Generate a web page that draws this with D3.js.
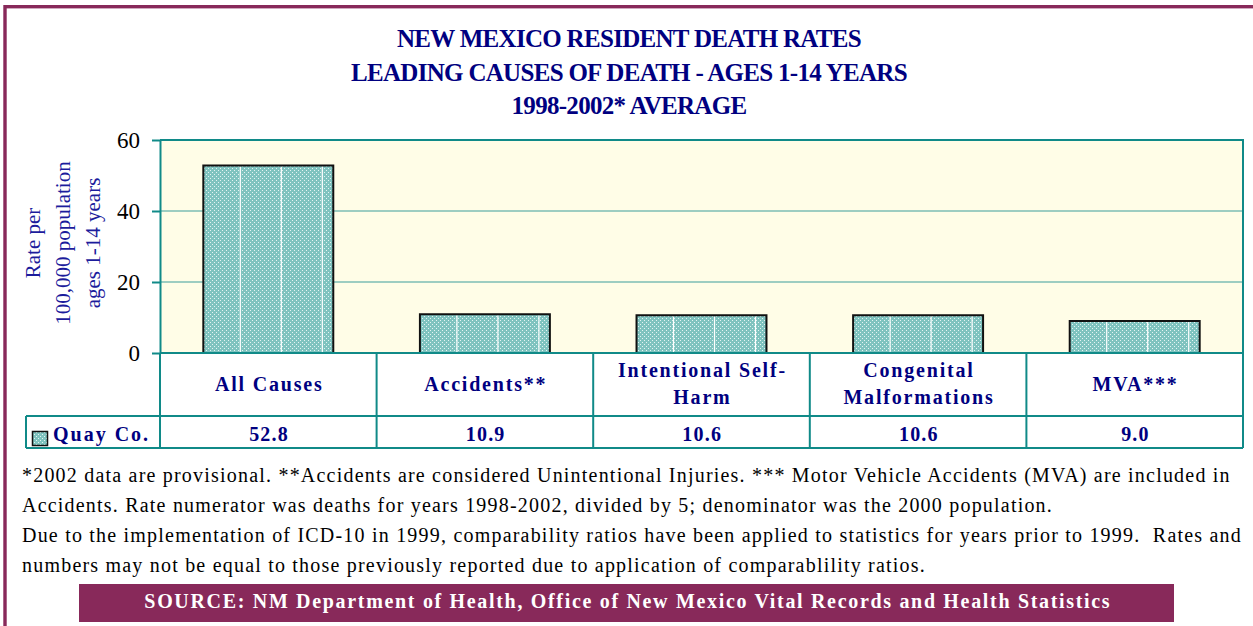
<!DOCTYPE html>
<html>
<head>
<meta charset="utf-8">
<script src="https://cdn.jsdelivr.net/npm/d3@7"></script>
<style>
  html, body { margin: 0; padding: 0; background: #ffffff; }
  svg { display: block; }
  .note { white-space: pre; }
</style>
</head>
<body>
<svg id="chart" width="1253" height="626"></svg>
<script>
// ---- data ----
const categories = ["All Causes", "Accidents**", "Intentional Self-Harm", "Congenital Malformations", "MVA***"];
const categoryLines = [["All Causes"], ["Accidents**"], ["Intentional Self-", "Harm"], ["Congenital", "Malformations"], ["MVA***"]];
const seriesName = "Quay Co.";
const values = [52.8, 10.9, 10.6, 10.6, 9.0];
const yTicks = [0, 20, 40, 60];
const titleLines = [
  "NEW MEXICO RESIDENT DEATH RATES",
  "LEADING CAUSES OF DEATH - AGES 1-14 YEARS",
  "1998-2002* AVERAGE"
];
const yTitleLines = ["Rate per", "100,000 population", "ages 1-14 years"];
const footnotes = [
  "*2002 data are provisional. **Accidents are considered Unintentional Injuries. *** Motor Vehicle Accidents (MVA) are included in",
  "Accidents. Rate numerator was deaths for years 1998-2002, divided by 5; denominator was the 2000 population.",
  "Due to the implementation of ICD-10 in 1999, comparability ratios have been applied to statistics for years prior to 1999.  Rates and",
  "numbers may not be equal to those previously reported due to application of comparablility ratios."
];
const sourceText = "SOURCE: NM Department of Health, Office of New Mexico Vital Records and Health Statistics";

// ---- layout & style ----
const serif = "'Liberation Serif', 'Times New Roman', serif";
const navy = "#000080";
const teal = "#108a88";
const maroon = "#88295a";
const plot = { left: 160, right: 1243, top: 140, bottom: 353 };
const tableRow1Bottom = 416, tableRow2Bottom = 448, legendLeft = 26;

const svg = d3.select("#chart");

// Spread a text element's letters so it spans the given width
function fitSpacing(sel, width) {
  sel.attr("letter-spacing", null);
  const node = sel.node();
  const natural = node.getComputedTextLength();
  const n = node.textContent.length;
  const s = (width - natural) / n;
  sel.attr("letter-spacing", s + "px");
  return s;
}

// Fill pattern for bars: teal with a fine white dot grid
const defs = svg.append("defs");
const pat = defs.append("pattern")
  .attr("id", "dots").attr("patternUnits", "userSpaceOnUse")
  .attr("width", 4).attr("height", 4);
pat.append("rect").attr("width", 4).attr("height", 4).attr("fill", "#7fc3bf");
pat.append("rect").attr("x", 0).attr("y", 0).attr("width", 1).attr("height", 1).attr("fill", "#e4f4f3");
pat.append("rect").attr("x", 2).attr("y", 2).attr("width", 1).attr("height", 1).attr("fill", "#e4f4f3");

// Outer frame
svg.append("rect")
  .attr("x", 5).attr("y", 6.7).attr("width", 1270).attr("height", 660)
  .attr("fill", "none").attr("stroke", maroon).attr("stroke-width", 3.4);

// Title
svg.append("g").selectAll("text").data(titleLines).join("text")
  .attr("x", 629).attr("y", (d, i) => 47 + i * 33.5)
  .attr("text-anchor", "middle")
  .attr("font-family", serif).attr("font-weight", "bold").attr("font-size", 25)
  .attr("letter-spacing", "-0.7px")
  .attr("fill", navy)
  .text(d => d);

// Scales
const x = d3.scaleBand().domain(categories)
  .range([plot.left, plot.right]).paddingInner(0.4).paddingOuter(0.2);
const y = d3.scaleLinear().domain([0, 60]).range([plot.bottom, plot.top]);
const step = x.step();
const colLeft = i => plot.left + i * step;

// Plot background
svg.append("rect")
  .attr("x", plot.left).attr("y", plot.top)
  .attr("width", plot.right - plot.left).attr("height", plot.bottom - plot.top)
  .attr("fill", "#fffde7");

// Gridlines
svg.append("g").selectAll("line").data(yTicks.filter(t => t > 0 && t < 60)).join("line")
  .attr("x1", plot.left).attr("x2", plot.right)
  .attr("y1", d => y(d)).attr("y2", d => y(d))
  .attr("stroke", "#7dbcb5").attr("stroke-width", 1.6);

// Bars
const bars = svg.append("g");
bars.selectAll("rect").data(values).join("rect")
  .attr("x", (d, i) => x(categories[i]))
  .attr("y", d => y(d))
  .attr("width", x.bandwidth())
  .attr("height", d => y(0) - y(d))
  .attr("fill", "url(#dots)");
// light vertical streaks inside each bar
values.forEach((v, i) => {
  const x0 = x(categories[i]);
  for (let k = x0 + 37; k < x0 + x.bandwidth() - 2; k += 41) {
    bars.append("line")
      .attr("x1", k).attr("x2", k).attr("y1", y(v) + 1).attr("y2", y(0))
      .attr("stroke", "#ffffff").attr("stroke-width", 1.2);
  }
});
bars.selectAll("path").data(values).join("path")
  .attr("d", (d, i) => {
    const x0 = x(categories[i]), x1 = x0 + x.bandwidth();
    return `M${x0},${y(0)}V${y(d)}H${x1}V${y(0)}`;
  })
  .attr("fill", "none").attr("stroke", "#111").attr("stroke-width", 2);

// Plot frame (top, right) and axis
svg.append("path")
  .attr("d", `M${plot.left},${plot.top}H${plot.right}V${plot.bottom}`)
  .attr("fill", "none").attr("stroke", teal).attr("stroke-width", 2);

const yAxis = svg.append("g")
  .attr("transform", `translate(${plot.left},0)`)
  .call(d3.axisLeft(y).tickValues(yTicks).tickSize(8).tickPadding(12).tickSizeOuter(0));
yAxis.select(".domain").attr("stroke", teal).attr("stroke-width", 2);
yAxis.selectAll(".tick line").attr("stroke", teal).attr("stroke-width", 2);
yAxis.selectAll(".tick text")
  .attr("font-family", serif).attr("font-size", 23).attr("fill", "#000")
  .attr("dy", "0.34em");

// Y axis title
const yTitle = svg.append("g").attr("transform", "translate(0,243) rotate(-90)");
yTitle.selectAll("text").data(yTitleLines).join("text")
  .attr("x", 0).attr("y", (d, i) => 40 + i * 30)
  .attr("text-anchor", "middle")
  .attr("font-family", serif).attr("font-size", 21)
  .attr("fill", "#1c1c9c")
  .text(d => d);

// Data table
const table = svg.append("g");
const tl = (x1, y1, x2, y2) => table.append("line")
  .attr("x1", x1).attr("y1", y1).attr("x2", x2).attr("y2", y2)
  .attr("stroke", teal).attr("stroke-width", 2);
tl(plot.left, plot.bottom, plot.right, plot.bottom);
tl(legendLeft, tableRow1Bottom, plot.right, tableRow1Bottom);
tl(legendLeft, tableRow2Bottom, plot.right, tableRow2Bottom);
tl(legendLeft, tableRow1Bottom, legendLeft, tableRow2Bottom);
d3.range(categories.length + 1).forEach(i => tl(colLeft(i), plot.bottom, colLeft(i), tableRow2Bottom));

const ls = 1.8;
categoryLines.forEach((lines, i) => {
  const cx = colLeft(i) + step / 2 + ls / 2;
  const cy = (plot.bottom + tableRow1Bottom) / 2;
  const lh = 27;
  lines.forEach((line, j) => {
    table.append("text")
      .attr("x", cx)
      .attr("y", cy + 6 + (j - (lines.length - 1) / 2) * lh)
      .attr("text-anchor", "middle")
      .attr("font-family", serif).attr("font-weight", "bold").attr("font-size", 20)
      .attr("letter-spacing", ls + "px")
      .attr("fill", navy)
      .text(line);
  });
});

values.forEach((v, i) => {
  table.append("text")
    .attr("x", colLeft(i) + step / 2 + 0.75)
    .attr("y", 441)
    .attr("text-anchor", "middle")
    .attr("font-family", serif).attr("font-weight", "bold").attr("font-size", 20)
    .attr("letter-spacing", "1.2px")
    .attr("fill", navy)
    .text(v.toFixed(1));
});

// Legend key in the table
table.append("rect")
  .attr("x", 32.5).attr("y", 431.5).attr("width", 15).attr("height", 14)
  .attr("fill", "url(#dots)").attr("stroke", "#111").attr("stroke-width", 1.5);
table.append("text")
  .attr("x", 53).attr("y", 441)
  .attr("font-family", serif).attr("font-weight", "bold").attr("font-size", 20)
  .attr("letter-spacing", "2px")
  .attr("fill", navy)
  .text(seriesName);

// Footnotes: all lines share the spacing that makes the longest line span the text block
const notes = svg.append("g").selectAll("text").data(footnotes).join("text")
  .attr("class", "note")
  .attr("x", 22).attr("y", (d, i) => 482 + i * 30)
  .attr("font-family", serif).attr("font-size", 20)
  .attr("fill", "#000")
  .text(d => d);
const noteSpacing = fitSpacing(notes.filter((d, i) => i === 2), 1220);
notes.attr("letter-spacing", noteSpacing + "px");

// Source banner
svg.append("rect")
  .attr("x", 79).attr("y", 584).attr("width", 1095).attr("height", 38)
  .attr("fill", maroon);
const src = svg.append("text")
  .attr("x", 627).attr("y", 608)
  .attr("text-anchor", "middle")
  .attr("font-family", serif).attr("font-weight", "bold").attr("font-size", 20)
  .attr("fill", "#ffffff")
  .text(sourceText);
const srcSpacing = fitSpacing(src, 967);
src.attr("x", 627 + srcSpacing / 2);
</script>
</body>
</html>
